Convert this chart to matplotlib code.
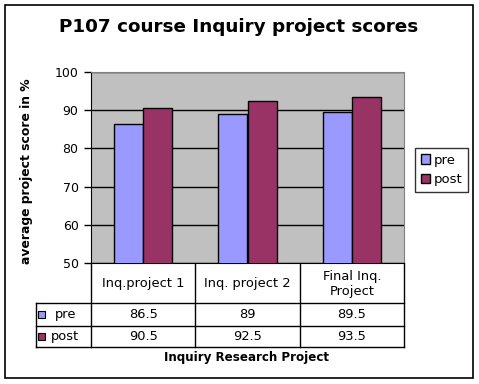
import matplotlib
matplotlib.use("Agg")
import matplotlib.pyplot as plt
from matplotlib.patches import Rectangle
import numpy as np

categories = ["Inq.project 1", "Inq. project 2", "Final Inq.\nProject"]
pre = [86.5, 89, 89.5]
post = [90.5, 92.5, 93.5]
series_names = ["pre", "post"]
colors = ["#9999FF", "#993366"]
yticks = [50, 60, 70, 80, 90, 100]

W, H = 479, 384
fig = plt.figure(figsize=(W / 100, H / 100), dpi=100)
plt.rcParams['font.family'] = ['DejaVu Sans']
fs = 9.4

# overlay in pixel coords for border, table and labels
ov = fig.add_axes([0, 0, 1, 1])
ov.set_xlim(0, W)
ov.set_ylim(H, 0)
ov.axis("off")
ov.add_patch(Rectangle((5, 5), 468, 373, fill=False, edgecolor="black", lw=1.2))

L, R, T, B = 91, 404, 72, 263
ax = fig.add_axes([L / W, (H - B) / H, (R - L) / W, (B - T) / H])
ax.set_facecolor("#C0C0C0")
x = np.arange(len(categories))
w = 0.28
b1 = ax.bar(x - w / 2, pre, w, color=colors[0], edgecolor="black", lw=1, zorder=3)
b2 = ax.bar(x + w / 2, post, w, color=colors[1], edgecolor="black", lw=1, zorder=3)
ax.set_xlim(-0.5, len(categories) - 0.5)
ax.set_ylim(50, 100)
ax.set_yticks(yticks)
ax.yaxis.grid(True, color="black", lw=1, zorder=1)
ax.set_axisbelow(True)
ax.set_xticks([])
ax.tick_params(axis="y", direction="out", length=5, width=1, labelsize=9, pad=4)
for s in ["top", "right"]:
    ax.spines[s].set_color("#808080")
ax.spines["left"].set_color("black")
ax.spines["bottom"].set_color("black")

ov.text(239, 27, "P107 course Inquiry project scores", ha="center", va="center",
        fontsize=13.2, fontweight="bold")
ov.text(27, 171, "average project score in %", rotation=90, ha="center", va="center",
        fontsize=8.9, fontweight="bold")
ov.text(247, 357, "Inquiry Research Project", ha="center", va="center",
        fontsize=8.6, fontweight="bold")

# data table
col_edges = np.linspace(L, R, len(categories) + 1)
rows_y = [B, 303, 326, 347]
lc = "black"
for xe in col_edges:
    ov.plot([xe, xe], [B, rows_y[-1]], color=lc, lw=1)
ov.plot([36, 36], [rows_y[1], rows_y[-1]], color=lc, lw=1)
for ye in rows_y[1:]:
    ov.plot([36, R], [ye, ye], color=lc, lw=1)
centers = (col_edges[:-1] + col_edges[1:]) / 2
for cx, cat in zip(centers, categories):
    ov.text(cx, (rows_y[0] + rows_y[1]) / 2 + 1, cat, ha="center", va="center",
            fontsize=fs, linespacing=1.25)
for i, (name, vals) in enumerate(zip(series_names, [pre, post])):
    cy = (rows_y[i + 1] + rows_y[i + 2]) / 2
    ov.add_patch(Rectangle((38.5, cy - 3.5), 7, 7, facecolor=colors[i],
                           edgecolor="black", lw=0.8))
    ov.text(55 if i == 0 else 51, cy, name, ha="left", va="center", fontsize=fs)
    for cx, v in zip(centers, vals):
        ov.text(cx, cy, f"{v:g}", ha="center", va="center", fontsize=fs)

leg = fig.legend([b1, b2], series_names, loc="center",
                 bbox_to_anchor=(441.5 / W, 1 - 170 / H), frameon=True,
                 fancybox=False, edgecolor="black", fontsize=9.5,
                 handlelength=0.7, handleheight=0.7, handletextpad=0.3,
                 borderpad=0.45, labelspacing=0.5, borderaxespad=0)
leg.get_frame().set_linewidth(1)

fig.savefig("out.png", dpi=100)
